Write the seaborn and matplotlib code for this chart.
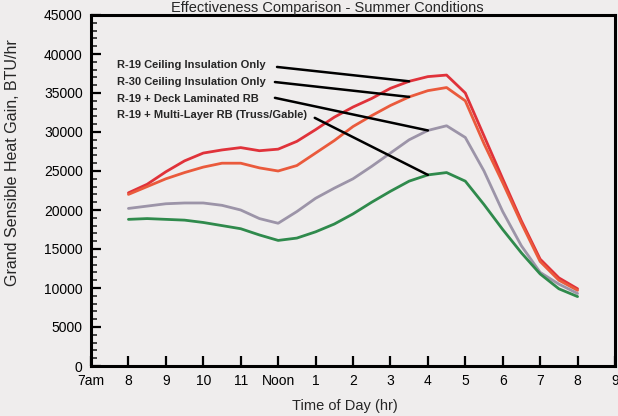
import matplotlib
matplotlib.use("Agg")
import matplotlib.pyplot as plt
import seaborn as sns
import pandas as pd
import numpy as np

# ---- data ----
hours = [8, 8.5, 9, 9.5, 10, 10.5, 11, 11.5, 12, 12.5, 13, 13.5, 14, 14.5,
         15, 15.5, 16, 16.5, 17, 17.5, 18, 18.5, 19, 19.5, 20]
r19_ceiling = [22.2, 23.3, 24.9, 26.3, 27.3, 27.7, 28.0, 27.6, 27.8, 28.8, 30.3, 31.9, 33.2, 34.3,
               35.6, 36.5, 37.1, 37.3, 35.0, 29.5, 24.0, 18.6, 13.7, 11.3, 9.9]
r30_ceiling = [22.0, 23.0, 24.0, 24.8, 25.5, 26.0, 26.0, 25.4, 25.0, 25.7, 27.3, 28.9, 30.7, 32.1,
               33.4, 34.5, 35.3, 35.7, 34.0, 28.5, 23.5, 18.3, 13.4, 11.0, 9.7]
r19_deck = [20.2, 20.5, 20.8, 20.9, 20.9, 20.6, 20.0, 18.9, 18.3, 19.8, 21.5, 22.8, 24.0, 25.6,
            27.3, 29.0, 30.2, 30.8, 29.3, 25.0, 19.8, 15.4, 12.0, 10.5, 9.3]
r19_multi = [18.8, 18.9, 18.8, 18.7, 18.4, 18.0, 17.6, 16.8, 16.1, 16.4, 17.2, 18.2, 19.5, 21.0,
             22.4, 23.7, 24.5, 24.8, 23.7, 20.7, 17.5, 14.5, 11.8, 9.9, 8.9]
series_names = ["R-19 Ceiling Insulation Only",
                "R-30 Ceiling Insulation Only",
                "R-19 + Deck Laminated RB",
                "R-19 + Multi-Layer RB (Truss/Gable)"]
tick_hours = [7, 8, 9, 10, 11, 12, 13, 14, 15, 16, 17, 18, 19, 20, 21]
tick_labels = ["7am", "8", "9", "10", "11", "Noon", "1", "2", "3", "4", "5", "6", "7", "8", "9"]
y_ticks = [0, 5000, 10000, 15000, 20000, 25000, 30000, 35000, 40000, 45000]

values = [r19_ceiling, r30_ceiling, r19_deck, r19_multi]
df = pd.concat([pd.DataFrame({"hour": hours,
                              "gain": np.array(v) * 1000,
                              "series": n}) for n, v in zip(series_names, values)])

colors = {series_names[0]: "#e0323a",
          series_names[1]: "#ea5a3c",
          series_names[2]: "#9c94a8",
          series_names[3]: "#2f8a4c"}

sns.set_style("ticks")
bg = "#efeded"
plt.rcParams["font.family"] = ["Liberation Sans", "DejaVu Sans"]
plt.rcParams["lines.solid_joinstyle"] = "round"

fig = plt.figure(figsize=(6.18, 4.16), dpi=100, facecolor=bg)
ax = fig.add_axes([91 / 618, 1 - 366 / 416, 524 / 618, 351 / 416])
ax.set_facecolor(bg)

sns.lineplot(data=df, x="hour", y="gain", hue="series", palette=colors,
             linewidth=2.0, legend=False, ax=ax, sort=True)

ax.set_xlim(7, 21)
ax.set_ylim(0, 45000)
ax.set_xticks(tick_hours)
ax.set_xticklabels(tick_labels)
ax.set_yticks(y_ticks)
ax.set_yticklabels([str(v) for v in y_ticks])
ax.set_yticks(np.arange(0, 45001, 1000), minor=True)

for s in ax.spines.values():
    s.set_linewidth(2.2)
    s.set_color("black")

ax.tick_params(axis="both", which="major", direction="in", length=7, width=1.6,
               labelsize=10, colors="black")
ax.tick_params(axis="x", which="major", pad=6)
ax.tick_params(axis="y", which="major", pad=6)
ax.tick_params(axis="y", which="minor", direction="in", length=4, width=1.2)

ax.set_xlabel("Time of Day (hr)", fontsize=10.5)
ax.xaxis.set_label_coords(0.485, -0.095)
ax.set_ylabel("Grand Sensible Heat Gain, BTU/hr", fontsize=11.5)
ax.yaxis.set_label_coords(-0.135, 0.58)

fig.text(327 / 618, 1 - 12 / 416, "Effectiveness Comparison - Summer Conditions",
         ha="center", va="baseline", fontsize=10.5)

# callout labels with leader lines
label_font = ["Liberation Sans Narrow", "Liberation Sans", "DejaVu Sans"]
text_y = [0.858, 0.808, 0.762, 0.716]
line_start = [(0.355, 0.852), (0.351, 0.809), (0.351, 0.764), (0.427, 0.707)]
targets = [(hours[15], r19_ceiling[15] * 1000),
           (hours[15], r30_ceiling[15] * 1000),
           (hours[16], r19_deck[16] * 1000),
           (hours[16], r19_multi[16] * 1000)]
for name, ty, ls, tgt in zip(series_names, text_y, line_start, targets):
    ax.text(0.050, ty, name, transform=ax.transAxes, ha="left", va="center",
            fontsize=8, fontweight="bold", family=label_font)
    ax.annotate("", xy=tgt, xycoords="data", xytext=ls, textcoords="axes fraction",
                arrowprops=dict(arrowstyle="-", color="black", lw=1.8,
                                shrinkA=0, shrinkB=0))

fig.savefig("out.png", dpi=100, facecolor=bg)
